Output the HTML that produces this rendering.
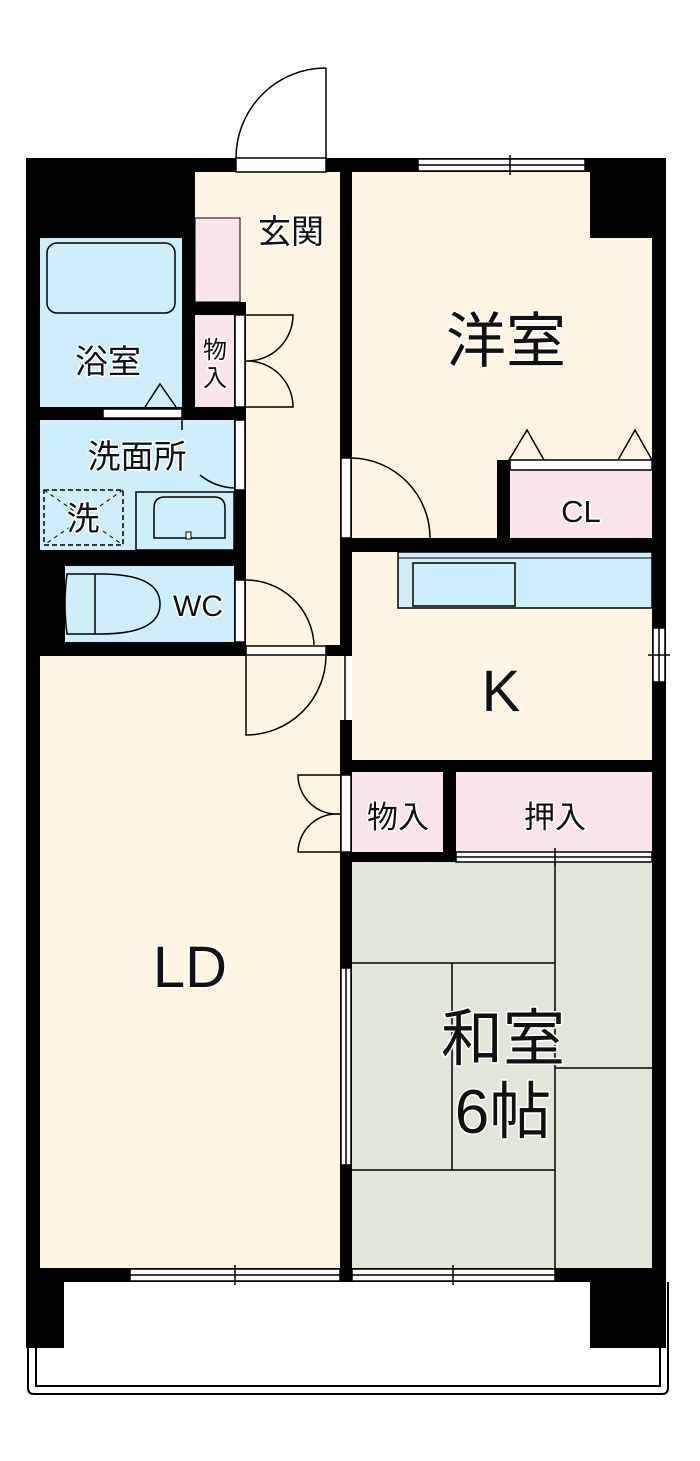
<!DOCTYPE html>
<html><head><meta charset="utf-8"><style>
html,body{margin:0;padding:0;background:#fff;width:700px;height:1461px;overflow:hidden}
svg{display:block}
text{font-family:"Liberation Sans","Noto Sans CJK JP",sans-serif;fill:#111;paint-order:stroke;stroke:#fff;stroke-width:3px;stroke-linejoin:round}
</style></head><body>
<svg width="700" height="1461" viewBox="0 0 700 1461" xmlns="http://www.w3.org/2000/svg">
<path d="M28 1282 V1388 Q28 1394 34 1394 H662 Q668 1394 668 1388 V1282" fill="none" stroke="#000" stroke-width="2"/>
<path d="M36 1282 V1386 H660 V1282" fill="none" stroke="#000" stroke-width="2"/>
<rect x="195" y="172" width="148" height="484" fill="#fdf5e1"/>
<rect x="40" y="656" width="302" height="612" fill="#fdf5e1"/>
<rect x="352" y="172" width="300" height="373" fill="#fdf5e1"/>
<rect x="352" y="552" width="300" height="210" fill="#fdf5e1"/>
<rect x="352" y="862" width="300" height="406" fill="#e1e7d8"/>
<rect x="40" y="238" width="142" height="169" fill="#cdeefa"/>
<rect x="40" y="420" width="194" height="130" fill="#cdeefa"/>
<rect x="65" y="566" width="169" height="76" fill="#cdeefa"/>
<rect x="195" y="218" width="45" height="84" fill="#fce4ec" stroke="#000" stroke-width="1"/>
<rect x="195" y="315" width="39" height="92" fill="#fce4ec"/>
<rect x="510" y="470" width="142" height="70" fill="#fce4ec"/>
<rect x="352" y="772" width="91" height="80" fill="#fce4ec"/>
<rect x="456" y="772" width="196" height="80" fill="#fce4ec"/>
<g stroke="#000" stroke-width="1.5" fill="none">
<line x1="555" y1="862" x2="555" y2="1268"/>
<line x1="352" y1="963" x2="555" y2="963"/>
<line x1="452" y1="963" x2="452" y2="1170"/>
<line x1="555" y1="1068" x2="652" y2="1068"/>
<line x1="352" y1="1170" x2="555" y2="1170"/>
</g>
<g fill="#000">
<rect x="26" y="158" width="210" height="14"/>
<rect x="326" y="158" width="340" height="14"/>
<rect x="26" y="158" width="169" height="80"/>
<rect x="590" y="158" width="62" height="80"/>
<rect x="26" y="158" width="14" height="1124"/>
<rect x="652" y="158" width="14" height="1124"/>
<rect x="182" y="238" width="13" height="182"/>
<rect x="195" y="302" width="51" height="13"/>
<rect x="234" y="302" width="12" height="354"/>
<rect x="40" y="407" width="206" height="13"/>
<rect x="40" y="550" width="206" height="16"/>
<rect x="40" y="566" width="25" height="76"/>
<rect x="40" y="642" width="206" height="14"/>
<rect x="340" y="158" width="12" height="498"/>
<rect x="326" y="645" width="26" height="11"/>
<rect x="340" y="720" width="12" height="562"/>
<rect x="340" y="538" width="326" height="14"/>
<rect x="497" y="460" width="13" height="85"/>
<rect x="340" y="760" width="326" height="12"/>
<rect x="443" y="772" width="13" height="90"/>
<rect x="340" y="852" width="116" height="10"/>
<rect x="26" y="1268" width="640" height="14"/>
<rect x="26" y="1268" width="38" height="80"/>
<rect x="590" y="1268" width="76" height="80"/>
</g>
<g fill="#fff" stroke="#000" stroke-width="1.5">
<rect x="236" y="158" width="90" height="14"/>
<rect x="418" y="159" width="167" height="12"/>
<rect x="103" y="409" width="79" height="9"/>
<rect x="235" y="315" width="10" height="92"/>
<rect x="235" y="420" width="10" height="70"/>
<rect x="235" y="580" width="10" height="62"/>
<rect x="246" y="646" width="80" height="9"/>
<rect x="341" y="458" width="10" height="80"/>
<rect x="341" y="775" width="10" height="77"/>
<rect x="510" y="460" width="142" height="10"/>
<rect x="653" y="628" width="12" height="54"/>
<rect x="341" y="968" width="10" height="197"/>
<rect x="130" y="1269" width="210" height="12"/>
<rect x="352" y="1269" width="203" height="12"/>
<rect x="456" y="852" width="196" height="10"/>
</g>
<g stroke="#000" stroke-width="1.5" fill="none">
<line x1="130" y1="1275" x2="340" y2="1275"/><line x1="235" y1="1265" x2="235" y2="1285"/>
<line x1="352" y1="1275" x2="555" y2="1275"/><line x1="453" y1="1265" x2="453" y2="1285"/>
<line x1="418" y1="165" x2="585" y2="165"/><line x1="510" y1="155" x2="510" y2="175"/>
<line x1="456" y1="857" x2="652" y2="857"/><line x1="555" y1="848" x2="555" y2="866"/>
<line x1="659" y1="628" x2="659" y2="682"/><line x1="648" y1="655" x2="670" y2="655"/>
<line x1="346" y1="968" x2="346" y2="1165"/>
<line x1="345" y1="656" x2="345" y2="720"/>
<line x1="326" y1="68" x2="326" y2="158"/>
<path d="M326 68 A90 90 0 0 0 236 158"/>
<path d="M246 315 H293 A46 46 0 0 1 246 361 A46 46 0 0 1 293 407 H246"/>
<path d="M234 488 A58 58 0 0 1 200 475"/>
<line x1="182" y1="420" x2="182" y2="430"/>
<path d="M145 407 L160 384 L176 407"/>
<path d="M246 580 A68 68 0 0 1 314 645"/>
<path d="M246 656 V735 A80 80 0 0 0 326 656"/>
<path d="M352 458 A80 80 0 0 1 430 538"/>
<path d="M340 775 H298 A39 39 0 0 0 340 814 A39 39 0 0 0 298 852 H340"/>
<path d="M509 460 L527 430 L544 460"/><path d="M618 460 L635 430 L652 460"/>
</g>
<rect x="47" y="243" width="128" height="70" rx="10" fill="#cdeefa" stroke="#000" stroke-width="1.5"/>
<rect x="44" y="490" width="79" height="55" fill="none" stroke="#000" stroke-width="1.5" stroke-dasharray="5,3"/>
<path d="M44 490 L123 545 M123 490 L44 545" stroke="#000" stroke-width="1" stroke-dasharray="4,4"/>
<rect x="136" y="492" width="98" height="58" fill="#cdeefa" stroke="#000" stroke-width="1.5"/>
<path d="M154 538 V508 Q154 497 165 497 H214 Q225 497 225 508 V538 Z" fill="#cdeefa" stroke="#000" stroke-width="1.5"/>
<rect x="186" y="532" width="5" height="7" fill="#fff" stroke="#000"/>
<path d="M67 574 H100 Q160 574 160 604 Q160 634 100 634 H67 Q63 604 67 574 Z" fill="#cdeefa" stroke="#000" stroke-width="1.5"/>
<line x1="95" y1="574" x2="95" y2="634" stroke="#000" stroke-width="1.5"/>
<rect x="398" y="552" width="254" height="56" fill="#cdeefa" stroke="#000" stroke-width="1.5"/>
<rect x="413" y="563" width="102" height="43" fill="#cdeefa" stroke="#000" stroke-width="1.5"/>
<line x1="398" y1="558" x2="652" y2="558" stroke="#000" stroke-width="1"/>
<text x="291" y="243" font-size="33" text-anchor="middle">玄関</text>
<text x="506" y="362" font-size="60" text-anchor="middle">洋室</text>
<text x="581" y="522" font-size="31" text-anchor="middle">CL</text>
<text x="501" y="711" font-size="58" text-anchor="middle">K</text>
<text x="190" y="987" font-size="58" text-anchor="middle">LD</text>
<text x="503" y="1060" font-size="62" text-anchor="middle">和室</text>
<text x="503" y="1133" font-size="62" text-anchor="middle">6帖</text>
<text x="398" y="828" font-size="31" text-anchor="middle">物入</text>
<text x="555" y="828" font-size="31" text-anchor="middle">押入</text>
<text x="108" y="373" font-size="33" text-anchor="middle">浴室</text>
<text x="137" y="468" font-size="33" text-anchor="middle">洗面所</text>
<text x="83" y="530" font-size="33" text-anchor="middle">洗</text>
<text x="198" y="616" font-size="30" text-anchor="middle">WC</text>
<text x="215" y="358" font-size="24" text-anchor="middle">物</text>
<text x="215" y="386" font-size="24" text-anchor="middle">入</text>
</svg>
</body></html>
